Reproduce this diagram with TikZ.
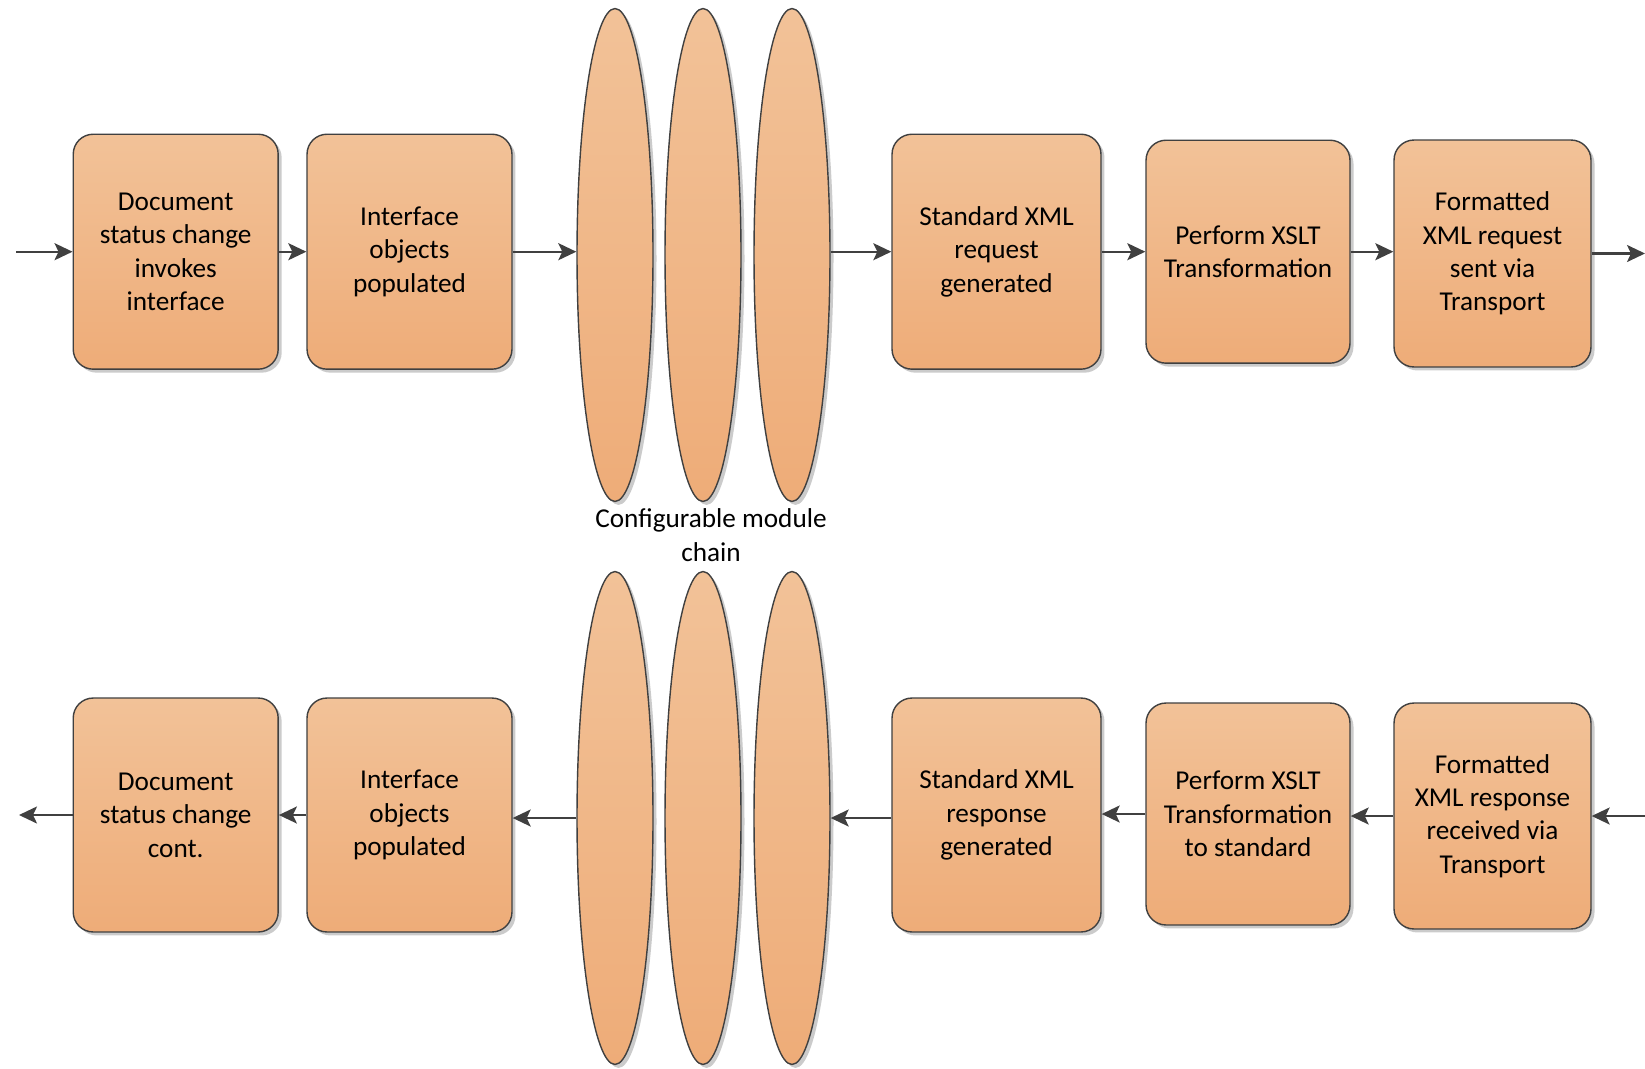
\documentclass[tikz,border=0pt]{standalone}
\usepackage{fontspec}
\setmainfont{Carlito}
\usetikzlibrary{arrows.meta,shadows,shapes.geometric,positioning}
\definecolor{boxtop}{RGB}{242,194,152}
\definecolor{boxbot}{RGB}{238,172,120}
\definecolor{edge}{RGB}{64,64,64}
\begin{document}
\begin{tikzpicture}[x=0.02cm, y=-0.02cm,
    stage/.style={draw=edge, line width=0.8pt, rounded corners=0.4cm,
      top color=boxtop, bottom color=boxbot,
      drop shadow={shadow xshift=0.07cm, shadow yshift=-0.07cm, fill=black!40},
      align=center, inner sep=0pt, font=\fontsize{15.5}{19}\selectfont},
    module/.style={ellipse, draw=edge, line width=0.8pt,
      top color=boxtop, bottom color=boxbot,
      drop shadow={shadow xshift=0.07cm, shadow yshift=-0.07cm, fill=black!40},
      minimum width=1.52cm, minimum height=9.86cm, inner sep=0pt},
    flow/.style={draw=edge, line width=1.2pt,
      -{Stealth[length=0.36cm, width=0.34cm, inset=0.08cm]}}]
  \useasboundingbox[fill=white] (0,0) rectangle (1645,1068);

  % request chain
  \node[stage, minimum width=4.1cm, minimum height=4.7cm] (docA) at (175.7,251.7) {Document\\status change\\invokes\\interface};
  \node[stage, minimum width=4.1cm, minimum height=4.7cm] (objA) at (409.5,251.7) {Interface\\objects\\populated};
  \foreach \i/\x in {1/615, 2/703, 3/792}
    \node[module] (modA\i) at (\x,255) {};
  \node[stage, minimum width=4.18cm, minimum height=4.7cm] (stdA) at (996.5,251.7) {Standard XML\\request\\generated};
  \node[stage, minimum width=4.08cm, minimum height=4.46cm] (xslA) at (1248,251.7) {Perform XSLT\\Transformation};
  \node[stage, minimum width=3.94cm, minimum height=4.54cm] (fmtA) at (1492.5,253.5) {Formatted\\XML request\\sent via\\Transport};

  \node[align=center, font=\fontsize{15.5}{19}\selectfont, inner sep=0pt] (chain) at (711,535) {Configurable module\\chain};

  % response chain
  \node[stage, minimum width=4.1cm, minimum height=4.68cm] (docB) at (175.7,815) {Document\\status change\\cont.};
  \node[stage, minimum width=4.1cm, minimum height=4.68cm] (objB) at (409.5,815) {Interface\\objects\\populated};
  \foreach \i/\x in {1/615, 2/703, 3/792}
    \node[module] (modB\i) at (\x,818) {};
  \node[stage, minimum width=4.18cm, minimum height=4.68cm] (stdB) at (996.5,815) {Standard XML\\response\\generated};
  \node[stage, minimum width=4.08cm, minimum height=4.44cm] (xslB) at (1248,814) {Perform XSLT\\Transformation\\to standard};
  \node[stage, minimum width=3.94cm, minimum height=4.52cm] (fmtB) at (1492.5,816) {Formatted\\XML response\\received via\\Transport};

  % free ends
  \coordinate (inA) at (16,251.7);
  \coordinate (outA) at (1645,251.7);
  \coordinate (inB) at (1645,816);
  \coordinate (outB) at (19,815);

  \draw[flow] (inA) -- (docA.west);
  \draw[flow] (docA.east) -- (docA.east -| objA.west);
  \draw[flow] (objA.east) -- (objA.east -| modA1.west);
  \draw[flow] (modA3.east |- stdA.west) -- (stdA.west);
  \draw[flow] (stdA.east) -- (stdA.east -| xslA.west);
  \draw[flow] (xslA.east) -- (xslA.east -| fmtA.west);
  \draw[flow] (fmtA.east) -- (fmtA.east -| outA);

  \draw[flow] (inB) -- (inB -| fmtB.east);
  \draw[flow] (fmtB.west) -- (fmtB.west -| xslB.east);
  \draw[flow] (xslB.west) -- (xslB.west -| stdB.east);
  \draw[flow] (stdB.west |- modB3.east) -- (modB3.east);
  \draw[flow] (modB1.west) -- (modB1.west -| objB.east);
  \draw[flow] (objB.west) -- (objB.west -| docB.east);
  \draw[flow] (docB.west) -- (outB);
\end{tikzpicture}
\end{document}
